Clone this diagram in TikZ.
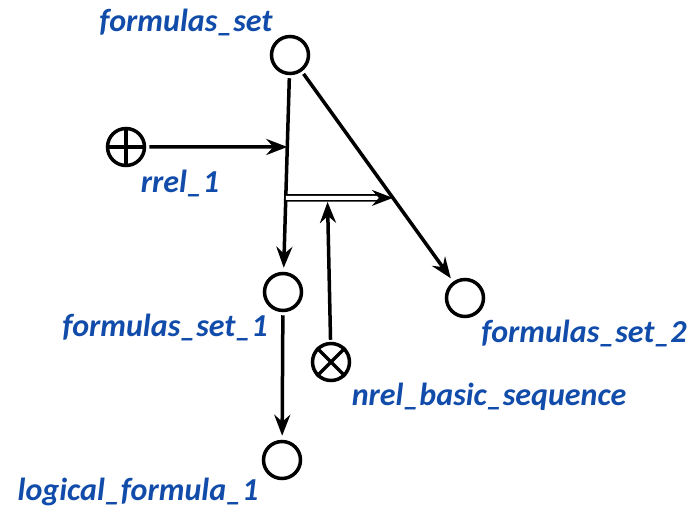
\documentclass[tikz,border=0pt]{standalone}
\usepackage{fontspec}
\setmainfont{Carlito}
\usetikzlibrary{arrows.meta,calc,positioning}
\definecolor{scblue}{RGB}{18,76,170}

\begin{document}
\begin{tikzpicture}[x=1pt,y=-1pt,
  el/.style={circle,draw,line width=3.5pt,minimum size=37pt,inner sep=0pt},
  lbl/.style={text=scblue,font=\bfseries\itshape\fontsize{32}{36}\selectfont,inner sep=0pt},
  arc/.style={line width=3.5pt,-{Stealth[length=21pt,width=16pt,inset=7pt]}},
  dbl/.style={double,line width=1.8pt,double distance=4pt,-{Stealth[length=21pt,width=16pt,inset=7pt]}}]
\useasboundingbox (0,0) rectangle (694,515);
% --- elementi ---
\node[el] (fs)  at (290,55) {};
\node[el] (rr)  at (126,147) {};
\node[el] (fs1) at (283,292) {};
\node[el] (fs2) at (465,298) {};
\node[el] (nb)  at (331,362) {};
\node[el] (lf)  at (282,460) {};
\draw[line width=3.5pt] (rr.north) -- (rr.south) (rr.west) -- (rr.east);
\draw[line width=3.5pt] (nb.north west) -- (nb.south east) (nb.north east) -- (nb.south west);
% --- etichette ---
\node[lbl] (fsl)  at (186,22)  {formulas\_set};
\node[lbl] (rrl)  at (180,183) {rrel\_1};
\node[lbl] (fs1l) at (165,327) {formulas\_set\_1};
\node[lbl] (fs2l) at (584,333) {formulas\_set\_2};
\node[lbl] (nbl)  at (489,397) {nrel\_basic\_sequence};
\node[lbl] (lfl)  at (138,492) {logical\_formula\_1};
% --- punti sugli archi ---
\path (fs.center) -- (fs1.center) coordinate[pos=0.388] (j1) coordinate[pos=0.603] (j2);
\path (fs.center) -- (fs2.center) coordinate[pos=0.588] (j3);
\coordinate (j4) at ($(j2)!0.39!(j3)+(0,4)$);
% --- archi ---
\draw[arc,shorten <=3pt,shorten >=4pt] (fs) -- (fs1);
\draw[arc,shorten <=3pt,shorten >=4pt] (fs) -- (fs2);
\draw[arc,shorten <=3pt] (rr) -- (j1);
\draw[dbl] (j2) -- (j3);
\draw[arc,shorten <=2pt] (nb) -- (j4);
\draw[arc,shorten <=3pt,shorten >=4pt] (fs1) -- (lf);
\end{tikzpicture}
\end{document}
